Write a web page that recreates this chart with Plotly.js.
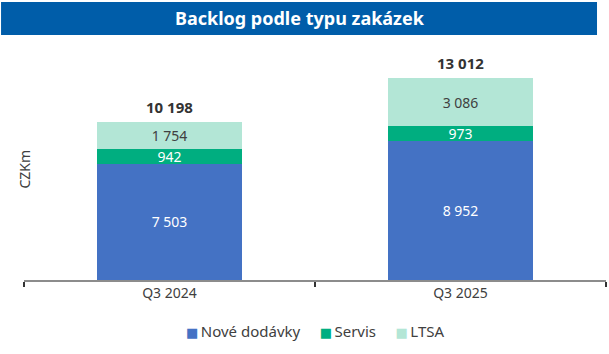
<!DOCTYPE html>
<html>
<head>
<meta charset="utf-8">
<script src="https://cdn.plot.ly/plotly-3.0.1.min.js"></script>
<style>html,body{margin:0;padding:0;background:#fff;}#chart{width:609px;height:354px;}</style>
</head>
<body>
<div id="chart"></div>
<script>
const categories = ['Q3 2024', 'Q3 2025'];
const noveDodavky = [7503, 8952];
const servis = [942, 973];
const ltsa = [1754, 3086];
const totals = [10198, 13012];
const seriesNames = ['Nové dodávky', 'Servis', 'LTSA'];
const seriesColors = ['#4472C4', '#00AE80', '#B3E6D6'];
const chartTitle = 'Backlog podle typu zakázek';
const yTitle = 'CZKm';

const FONT = 'Noto Sans, Open Sans, sans-serif';
const common = {
  type: 'bar', x: categories, textposition: 'inside', insidetextanchor: 'middle',
  textangle: 0, texttemplate: '%{y:,.0f}', hoverinfo: 'none', cliponaxis: false, showlegend: false
};
const traces = [
  Object.assign({}, common, {name: seriesNames[0], y: noveDodavky, marker: {color: seriesColors[0]},
    textfont: {color: '#ffffff', size: 14, family: FONT}}),
  Object.assign({}, common, {name: seriesNames[1], y: servis, marker: {color: seriesColors[1]},
    textfont: {color: '#ffffff', size: 14, family: FONT}}),
  Object.assign({}, common, {name: seriesNames[2], y: ltsa, marker: {color: seriesColors[2]},
    textfont: {color: '#404040', size: 14, family: FONT}})
];

const annotations = categories.map((c, i) => ({
  x: c, y: totals[i], xref: 'x', yref: 'y', text: '<b>' + totals[i].toLocaleString('cs-CZ').replace(/\s/g, ' ') + '</b>',
  showarrow: false, yanchor: 'bottom', yshift: 3, font: {size: 15, color: '#333333', family: FONT}
}));
annotations.push({
  text: '<b>' + chartTitle + '</b>', xref: 'paper', yref: 'paper', x: 0.475, y: 1, yshift: 27,
  showarrow: false, xanchor: 'center', yanchor: 'middle', font: {size: 18, color: '#ffffff', family: FONT}
});
annotations.push({
  text: yTitle, xref: 'paper', yref: 'paper', x: 0, xshift: 1, y: 0.47, textangle: -90,
  showarrow: false, xanchor: 'center', yanchor: 'middle', font: {size: 14, color: '#404040', family: FONT}
});
// legend built from the series names and colours
annotations.push({
  text: seriesNames.map((n, i) =>
    '<span style="color:' + seriesColors[i] + ';font-family:DejaVu Sans;font-size:13px">■</span>\u2009' + n
  ).join('     '),
  xref: 'paper', yref: 'paper', x: 0.5, y: -0.217, xanchor: 'center', yanchor: 'middle',
  showarrow: false, font: {size: 15, color: '#404040', family: FONT}
});

const layout = {
  width: 609, height: 354,
  margin: {l: 24, r: 3, t: 45, b: 74},
  barmode: 'stack', bargap: 0.5,
  separators: ', ',
  showlegend: false,
  uniformtext: {mode: 'show', minsize: 14},
  font: {family: FONT, color: '#404040', size: 13},
  paper_bgcolor: '#ffffff', plot_bgcolor: '#ffffff',
  xaxis: {
    type: 'category', range: [-0.5, 1.5], showline: true, linecolor: '#8c8c8c', linewidth: 1.5,
    ticks: 'outside', tickson: 'boundaries', ticklen: 5, tickcolor: '#333333', tickwidth: 1.5,
    tickfont: {size: 14, color: '#404040', family: FONT}, showgrid: false, zeroline: false, fixedrange: true
  },
  yaxis: {range: [0, 15161], visible: false, showgrid: false, zeroline: false, fixedrange: true},
  shapes: [{
    type: 'rect', xref: 'paper', yref: 'paper', layer: 'above',
    x0: -23/583, x1: 574/583, y0: 1 + 10/235, y1: 1 + 43/235,
    fillcolor: '#005DA9', line: {width: 0}
  }],
  annotations: annotations
};
Plotly.newPlot('chart', traces, layout, {displayModeBar: false, staticPlot: true});
</script>
</body>
</html>
